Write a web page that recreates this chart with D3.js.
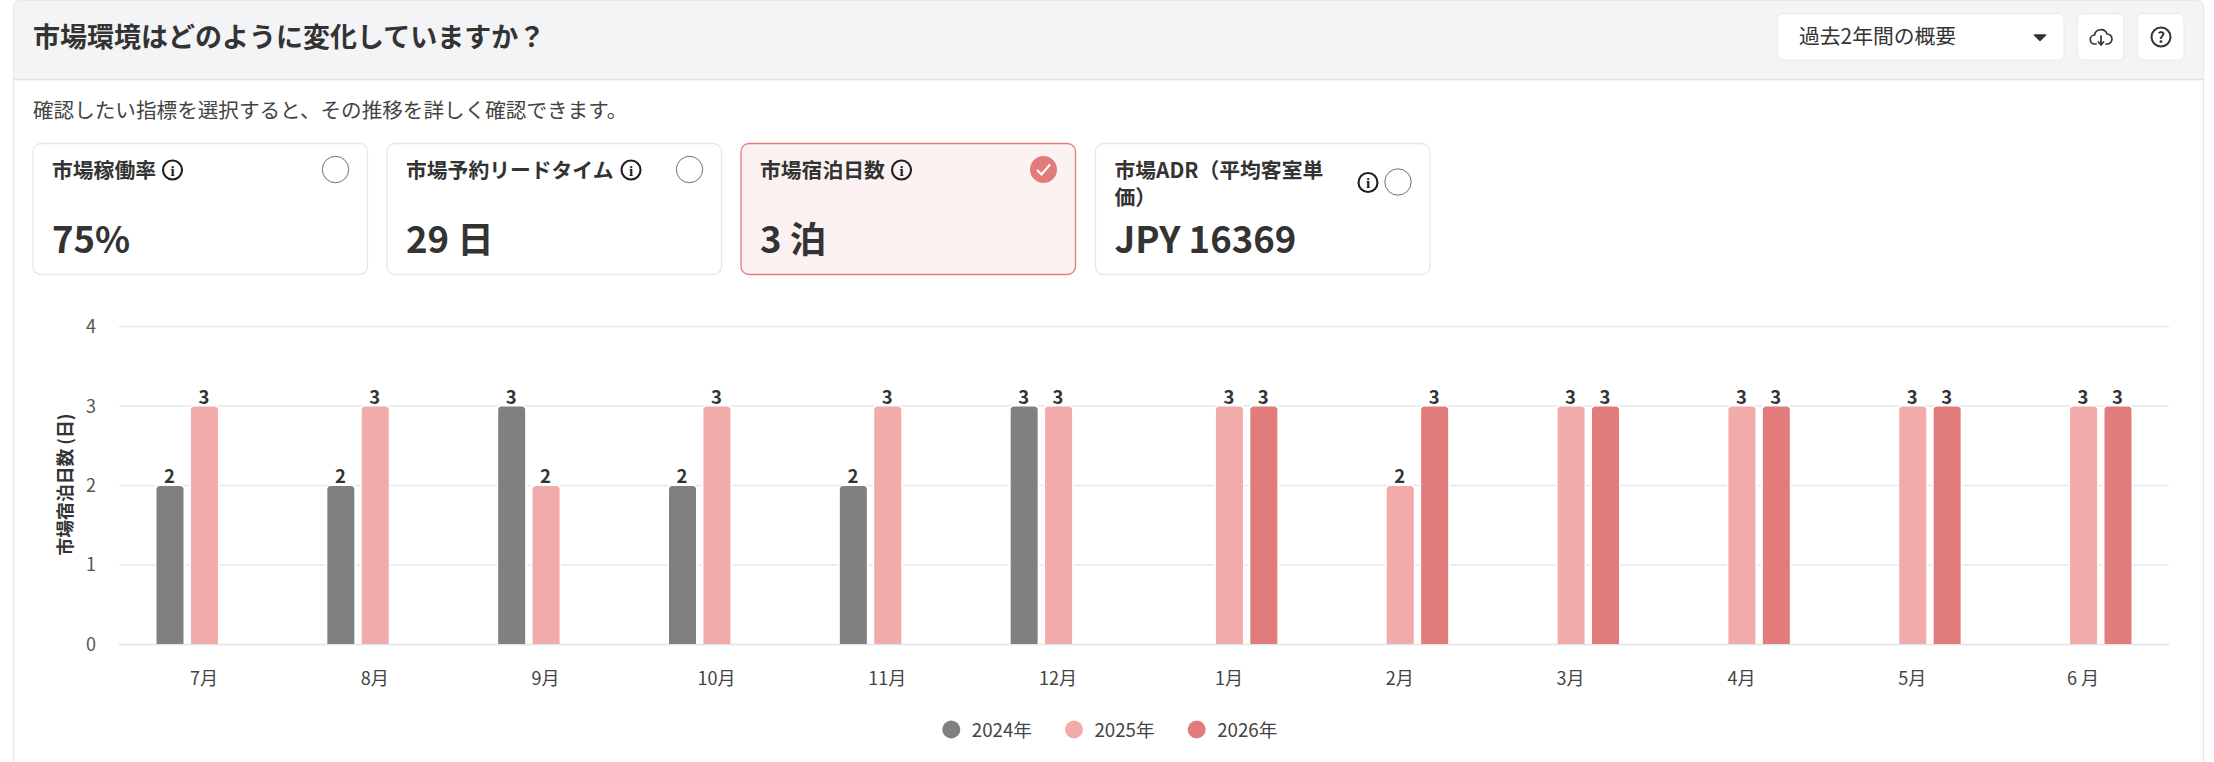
<!DOCTYPE html>
<html lang="ja">
<head>
<meta charset="utf-8">
<script src="https://cdn.jsdelivr.net/npm/d3@7"></script>
<style>
  html, body { margin: 0; padding: 0; background: #fff; }
  svg { display: block; }
  text { font-family: 'Noto Sans CJK JP', 'Noto Sans', sans-serif; fill: #333; }
</style>
</head>
<body>
<svg id="chart" width="2214" height="762"></svg>
<script>
const months = ['7月','8月','9月','10月','11月','12月','1月','2月','3月','4月','5月','6 月'];
const years = ['2024年','2025年','2026年'];
const values2024 = [2,2,3,2,2,3,null,null,null,null,null,null];
const values2025 = [3,3,2,3,3,3,3,2,3,3,3,3];
const values2026 = [null,null,null,null,null,null,3,3,3,3,3,3];
const yTicks = [0,1,2,3,4];
const cardTitles = [['市場稼働率'],['市場予約リードタイム'],['市場宿泊日数'],['市場ADR（平均客室単','価）']];
const cardValues = ['75%','29 日','3 泊','JPY 16369'];
const selectedCard = 2;

const C24 = '#808080', C25 = '#F1ABAB', C26 = '#E27C7C', LINE = '#E6E7E9';
const seriesVals = [values2024, values2025, values2026];
const seriesCols = [C24, C25, C26];

const svg = d3.select('#chart');

// panel + header
svg.append('path')
  .attr('d', 'M14,79.5 V8 Q14,1 21,1 H2196 Q2203,1 2203,8 V79.5 Z')
  .attr('fill', '#F3F4F6');
svg.append('path')
  .attr('d', 'M13.5,762 V8 Q13.5,0.5 21,0.5 H2196 Q2203.5,0.5 2203.5,8 V762')
  .attr('fill', 'none').attr('stroke', LINE).attr('stroke-width', 1.2);
svg.append('line').attr('x1', 14).attr('x2', 2203).attr('y1', 79.5).attr('y2', 79.5)
  .attr('stroke', '#DFE0E3').attr('stroke-width', 1.4);

svg.append('text').attr('x', 33).attr('y', 47).attr('font-size', 27).attr('font-weight', 600)
  .text('市場環境はどのように変化していますか？');
svg.append('text').attr('x', 33).attr('y', 118).attr('font-size', 20.6)
  .style('fill', '#444').text('確認したい指標を選択すると、その推移を詳しく確認できます。');

// header controls
function headerBtn(x, w) {
  svg.append('rect').attr('x', x).attr('y', 13.5).attr('width', w).attr('height', 46.5).attr('rx', 6)
    .attr('fill', '#fff').attr('stroke', '#E8E9EB');
}
headerBtn(1777.5, 286.5);
headerBtn(2077.5, 46.5);
headerBtn(2137.5, 46.5);
svg.append('text').attr('x', 1799).attr('y', 44).attr('font-size', 20.8).text('過去2年間の概要');
svg.append('path').attr('d', 'M2034.5,35 H2045.5 L2040,40.5 Z').attr('fill', '#333')
  .attr('stroke', '#333').attr('stroke-width', 1.5).attr('stroke-linejoin', 'round');

// cloud download icon
const cloud = svg.append('g').attr('transform', 'translate(2101,37)')
  .attr('fill', 'none').attr('stroke', '#333').attr('stroke-width', 1.7)
  .attr('stroke-linecap', 'round').attr('stroke-linejoin', 'round');
cloud.append('path').attr('d', 'M-5,7 H-6 A4.5,4.5 0 0 1 -6.5,-2 A6.5,6.5 0 0 1 6,-3 A5,5 0 0 1 6,7 H5');
cloud.append('path').attr('d', 'M0,-1 V8 M-2.6,5 L0,8 L2.6,5');

// help icon
svg.append('circle').attr('cx', 2161).attr('cy', 37).attr('r', 9.5)
  .attr('fill', 'none').attr('stroke', '#333').attr('stroke-width', 2);
svg.append('text').attr('x', 2161).attr('y', 42.5).attr('text-anchor', 'middle')
  .attr('font-size', 15).attr('font-weight', 700).text('?');

// metric cards
const cardX = d3.scaleLinear().domain([0, 1]).range([33, 387]);
const CARD_W = 334.5, CARD_Y = 143.5, CARD_H = 131;

function infoIcon(g, x, y) {
  g.append('circle').attr('cx', x).attr('cy', y).attr('r', 9.5)
    .attr('fill', 'none').attr('stroke', '#1d1d22').attr('stroke-width', 2.1);
  g.append('text').attr('x', x).attr('y', y + 5.5).attr('text-anchor', 'middle')
    .attr('font-size', 15).attr('font-weight', 700).style('font-family', "'Liberation Serif',serif")
    .style('fill', '#1d1d22').text('i');
}

const infoOffset = [139.5, 244, 160.5, 272.5];

cardValues.forEach((val, i) => {
  const x0 = cardX(i) + (i === 3 ? 0.5 : 0);
  const sel = i === selectedCard;
  const g = svg.append('g').attr('transform', `translate(${x0},0)`);
  g.append('rect').attr('x', 0).attr('y', CARD_Y).attr('width', CARD_W).attr('height', CARD_H).attr('rx', 8)
    .attr('fill', sel ? '#FCF2F2' : '#fff')
    .attr('stroke', sel ? C26 : '#E6E7E9').attr('stroke-width', 1.3);

  cardTitles[i].forEach((t, k) => {
    g.append('text').attr('x', 19).attr('y', 177.5 + k * 27.5)
      .attr('font-size', 20.8).attr('font-weight', 600).text(t);
  });

  const iconY = i === 3 ? 182.5 : 170;
  infoIcon(g, infoOffset[i], iconY);

  const rx = 302.5, ry = iconY - 0.5;
  if (sel) {
    g.append('circle').attr('cx', rx).attr('cy', ry).attr('r', 13.5).attr('fill', C26);
    g.append('path').attr('d', `M${rx - 6.5},${ry + 0.5} L${rx - 2},${ry + 5} L${rx + 6.5},${ry - 5}`)
      .attr('fill', 'none').attr('stroke', '#fff').attr('stroke-width', 2.2);
  } else {
    g.append('circle').attr('cx', rx).attr('cy', ry).attr('r', 13.2)
      .attr('fill', '#fff').attr('stroke', '#6f6f6f').attr('stroke-width', 1);
  }

  g.append('text').attr('x', 19).attr('y', 252.5).attr('font-size', 36.5).attr('font-weight', 700).text(val);
});

// bar chart
const PLOT_L = 119, PLOT_R = 2169, PLOT_T = 326.6, PLOT_B = 644.3;
const x0 = d3.scaleBand().domain(months).range([PLOT_L, PLOT_R]);
const x1 = d3.scaleBand().domain(d3.range(3)).range([0, x0.bandwidth()])
  .paddingInner(0.215).paddingOuter(1.09);
const y = d3.scaleLinear().domain([0, 4]).range([PLOT_B, PLOT_T]);

svg.append('g').selectAll('line').data(yTicks).join('line')
  .attr('x1', PLOT_L).attr('x2', PLOT_R)
  .attr('y1', d => y(d)).attr('y2', d => y(d))
  .attr('stroke', LINE).attr('stroke-width', 1.5);

svg.append('g').selectAll('text').data(yTicks).join('text')
  .attr('x', 96).attr('y', d => y(d) + 6.5).attr('text-anchor', 'end')
  .attr('font-size', 18).style('fill', '#555').text(d => d);

svg.append('text').attr('transform', 'translate(72,484.5) rotate(-90)').attr('text-anchor', 'middle')
  .attr('font-size', 17.8).attr('font-weight', 700).text('市場宿泊日数 (日)');

function topRoundBar(x, yTop, w, h, r) {
  return `M${x},${yTop + h} V${yTop + r} Q${x},${yTop} ${x + r},${yTop} H${x + w - r} Q${x + w},${yTop} ${x + w},${yTop + r} V${yTop + h} Z`;
}

const groups = svg.append('g').selectAll('g').data(months).join('g')
  .attr('transform', d => `translate(${x0(d)},0)`);

groups.selectAll('path')
  .data((m, mi) => seriesVals.map((s, si) => ({ si, v: s[mi] })).filter(d => d.v != null))
  .join('path')
  .attr('d', d => topRoundBar(x1(d.si), y(d.v) + 0.5, x1.bandwidth(), PLOT_B - y(d.v) - 0.5, 3.5))
  .attr('fill', d => seriesCols[d.si])
  .attr('stroke', '#fff').attr('stroke-width', 3.2).style('paint-order', 'stroke');

groups.selectAll('text.val')
  .data((m, mi) => seriesVals.map((s, si) => ({ si, v: s[mi] })).filter(d => d.v != null))
  .join('text').attr('class', 'val')
  .attr('x', d => x1(d.si) + x1.bandwidth() / 2 - 0.5)
  .attr('y', d => y(d.v) - 2).attr('text-anchor', 'middle')
  .attr('font-size', 18.5).attr('font-weight', 700).text(d => d.v);

// baseline sits over the bar halos
svg.append('line').attr('x1', PLOT_L).attr('x2', PLOT_R).attr('y1', PLOT_B + 0.5).attr('y2', PLOT_B + 0.5)
  .attr('stroke', LINE).attr('stroke-width', 1.5);

svg.append('g').selectAll('text').data(months).join('text')
  .attr('x', d => x0(d) + x0.bandwidth() / 2 - 0.5).attr('y', 684.5).attr('text-anchor', 'middle')
  .attr('font-size', 18).style('fill', '#444').text(d => d);

// legend
const legendX = d3.scalePoint().domain(years).range([951.3, 1196.7]);
const legend = svg.append('g').selectAll('g').data(years).join('g')
  .attr('transform', d => `translate(${legendX(d)},729.5)`);
legend.append('circle').attr('r', 9).attr('fill', (d, i) => seriesCols[i]);
legend.append('text').attr('x', 20.5).attr('y', 7.5).attr('font-size', 18.7).style('fill', '#444').text(d => d);
</script>
</body>
</html>
